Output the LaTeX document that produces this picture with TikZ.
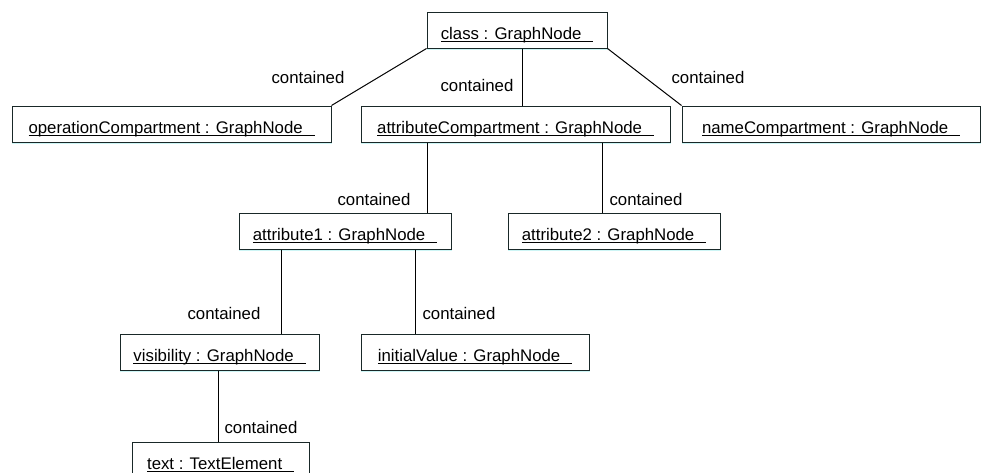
\documentclass[tikz,border=0pt]{standalone}
\usepackage{fontspec}
\setmainfont{Liberation Sans}
\usetikzlibrary{calc}
\definecolor{boxline}{RGB}{25,40,40}
\definecolor{shadowc}{RGB}{205,245,245}
\newcommand\ulx[1]{\setbox0\hbox{#1\hspace{0.7em}}\rlap{\rule[-1.6pt]{\wd0}{0.5pt}}\box0}
\tikzset{
  umlbox/.style={draw=boxline, line width=0.5pt, fill=white,
    preaction={draw=shadowc, line width=0.5pt, transform canvas={yshift=-0.6pt}},
    minimum height=18pt, inner xsep=0pt, inner ysep=0pt,
    text height=13.5pt, text depth=4.5pt,
    font=\fontsize{8.4}{10}\selectfont},
  conn/.style={draw=black, line width=0.5pt},
  lbl/.style={inner sep=0pt, font=\fontsize{8.4}{10}\selectfont}
}
\begin{document}
\begin{tikzpicture}[x=0.5pt, y=-0.5pt]
\useasboundingbox (0,0) rectangle (983,472);
\clip (0,0) rectangle (983,472);
\node[umlbox, minimum width=90pt] (class) at (517,30) {\ulx{class : GraphNode}};
\node[umlbox, minimum width=159.5pt] (op) at (171.5,124) {\ulx{operationCompartment : GraphNode}};
\node[umlbox, minimum width=154.5pt] (attrC) at (515.5,124) {\ulx{attributeCompartment : GraphNode}};
\node[umlbox, minimum width=149pt] (nameC) at (831,124) {\ulx{nameCompartment : GraphNode}};
\node[umlbox, minimum width=106pt] (attr1) at (345,231) {\ulx{attribute1 : GraphNode}};
\node[umlbox, minimum width=106pt] (attr2) at (614,231) {\ulx{attribute2 : GraphNode}};
\node[umlbox, minimum width=99.5pt] (vis) at (219.5,352) {\ulx{visibility : GraphNode}};
\node[umlbox, minimum width=114pt] (initV) at (475,352) {\ulx{initialValue : GraphNode}};
\node[umlbox, minimum width=88.5pt] (textE) at (220.5,460) {\ulx{text : TextElement}};

\draw[conn] (class.south west) -- (op.north east);
\draw[conn] (class.south east) -- (nameC.north west);
\draw[conn] ($(class.south)+(5,0)$) -- ($(attrC.north)+(6.5,0)$);
\draw[conn] ($(attrC.south)+(-88.5,0)$) -- ($(attr1.north)+(82,0)$);
\draw[conn] ($(attrC.south)+(86.5,0)$) -- ($(attr2.north)+(-12,0)$);
\draw[conn] ($(attr1.south)+(-64,0)$) -- ($(vis.north)+(61.5,0)$);
\draw[conn] ($(attr1.south)+(70,0)$) -- ($(initV.north)+(-60,0)$);
\draw[conn] ($(vis.south)+(-1.5,0)$) -- ($(textE.north)+(-2.5,0)$);

\node[lbl] (l1) at (308,77) {contained};
\node[lbl] (l2) at (477,85) {contained};
\node[lbl] (l3) at (708,77) {contained};
\node[lbl] (l4) at (374,199) {contained};
\node[lbl] (l5) at (646,199) {contained};
\node[lbl] (l6) at (224,313) {contained};
\node[lbl] (l7) at (459,313) {contained};
\node[lbl] (l8) at (261,427) {contained};
\end{tikzpicture}
\end{document}
